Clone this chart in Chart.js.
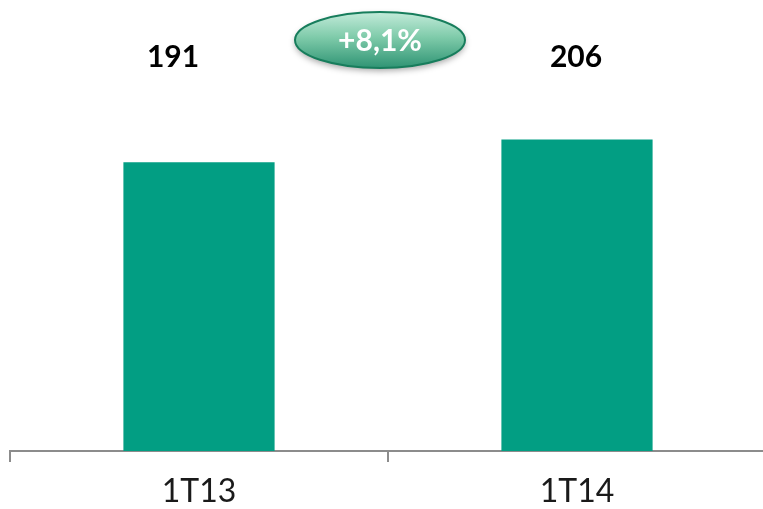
<!DOCTYPE html>
<html>
<head>
<meta charset="utf-8">
<script src="https://cdn.jsdelivr.net/npm/chart.js@4/dist/chart.umd.min.js"></script>
<style>
  html, body { margin: 0; padding: 0; background: #ffffff; overflow: hidden; }
  #wrap { width: 766px; height: 522px; }
</style>
</head>
<body>
<div id="wrap"><canvas id="c" width="766" height="522"></canvas></div>
<script>
const categories = ['1T13', '1T14'];
const values = [191, 206];
const valueLabels = ['191', '206'];
const growthLabel = '+8,1%';

const barColor = '#029e83';
const axisColor = '#8c8c8c';

const labelsPlugin = {
  id: 'labels',
  afterDatasetsDraw(chart) {
    const ctx = chart.ctx;
    const meta = chart.getDatasetMeta(0);
    const top = chart.chartArea.top;
    ctx.save();
    ctx.fillStyle = '#000000';
    ctx.font = 'bold 30px Lato';
    ctx.textAlign = 'center';
    ctx.textBaseline = 'middle';
    const dx = [-26, -1];
    meta.data.forEach((bar, i) => {
      ctx.fillText(valueLabels[i], bar.x + dx[i], top - 16);
    });
    // growth badge
    const x0 = meta.data[0].x, x1 = meta.data[1].x;
    const cx = (x0 + x1) / 2 - 8;
    const cy = top - 33;
    const rx = 85, ry = 28;
    ctx.save();
    ctx.shadowColor = 'rgba(0,0,0,0.35)';
    ctx.shadowBlur = 6;
    ctx.shadowOffsetY = 3;
    const g = ctx.createLinearGradient(0, cy - ry, 0, cy + ry);
    g.addColorStop(0, '#c3ebda');
    g.addColorStop(0.45, '#7fcbaa');
    g.addColorStop(1, '#2f9474');
    ctx.beginPath();
    ctx.ellipse(cx, cy, rx, ry, 0, 0, Math.PI * 2);
    ctx.fillStyle = g;
    ctx.fill();
    ctx.restore();
    ctx.beginPath();
    ctx.ellipse(cx, cy, rx, ry, 0, 0, Math.PI * 2);
    ctx.lineWidth = 2;
    ctx.strokeStyle = '#177d5c';
    ctx.stroke();
    ctx.fillStyle = '#ffffff';
    ctx.font = 'bold 30px Lato';
    ctx.fillText(growthLabel, cx, cy + 1);
    ctx.restore();
  }
};

new Chart(document.getElementById('c'), {
  type: 'bar',
  data: {
    labels: categories,
    datasets: [{
      data: values,
      backgroundColor: barColor,
      borderWidth: 0,
      barPercentage: 0.4,
      categoryPercentage: 1.0
    }]
  },
  options: {
    responsive: false,
    animation: false,
    layout: { padding: { top: 73, left: 10, right: 0, bottom: 0 } },
    plugins: { legend: { display: false }, tooltip: { enabled: false } },
    scales: {
      y: { display: false, min: 0, max: 250 },
      x: {
        offset: true,
        border: { display: true, color: axisColor, width: 2 },
        grid: {
          offset: true,
          drawOnChartArea: false,
          drawTicks: true,
          tickLength: 11,
          color: axisColor,
          lineWidth: 2
        },
        ticks: {
          color: '#1a1a1a',
          font: { family: 'Lato', size: 32, lineHeight: 1.0 },
          padding: 14
        }
      }
    }
  },
  plugins: [labelsPlugin]
});
</script>
</body>
</html>
